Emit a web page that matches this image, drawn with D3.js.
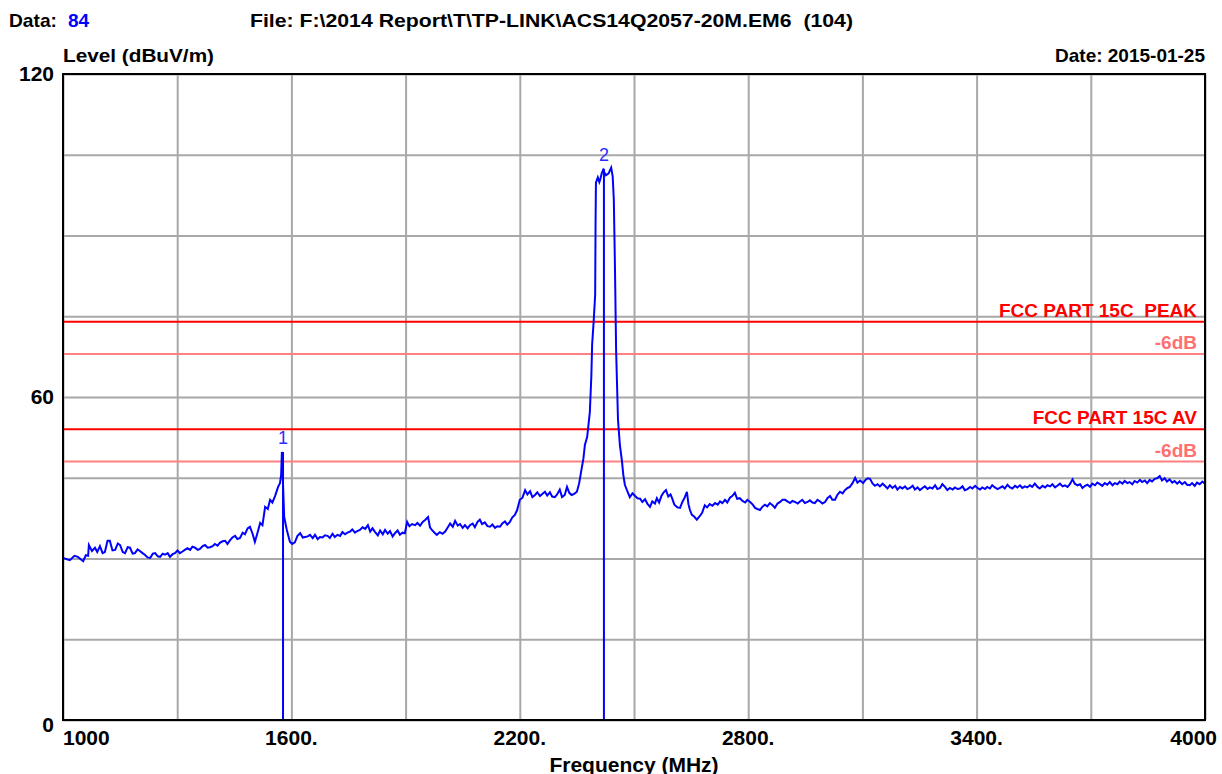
<!DOCTYPE html>
<html>
<head>
<meta charset="utf-8">
<script src="https://cdn.jsdelivr.net/npm/d3@7"></script>
<style>
  body { margin: 0; background: #fff; }
  text { font-family: "Liberation Sans", Arial, sans-serif; font-weight: bold; }
</style>
</head>
<body>
<script>
// spectrum trace (MHz, dBuV/m)
var freq = [1000,1018,1030,1039,1053,1060,1066,1068,1076,1084,1090,1097,1104,1110,1117,1123,1130,1137,1144,1150,1157,1163,1170,1176,1183,1189,1196,1202,1209,1215,1222,1229,1236,1242,1249,1255,1262,1268,1275,1281,1288,1294,1301,1307,1314,1320,1327,1334,1340,1347,1354,1360,1367,1373,1380,1386,1393,1399,1406,1412,1419,1426,1432,1439,1445,1452,1458,1465,1472,1478,1485,1491,1498,1504,1511,1518,1524,1531,1538,1544,1550,1557,1565,1570,1573,1575,1581,1588,1596,1602,1609,1616,1623,1630,1636,1643,1649,1656,1662,1669,1675,1682,1688,1695,1701,1708,1714,1721,1728,1734,1741,1747,1754,1760,1767,1773,1780,1787,1794,1801,1807,1813,1820,1827,1833,1840,1846,1853,1859,1866,1872,1879,1885,1892,1898,1904,1910,1917,1925,1931,1938,1945,1952,1959,1964,1969,1976,1982,1990,1997,2004,2011,2017,2024,2030,2037,2043,2050,2056,2063,2069,2076,2082,2089,2095,2101,2108,2115,2122,2128,2135,2141,2148,2154,2161,2167,2174,2180,2187,2193,2200,2207,2214,2220,2227,2233,2240,2246,2253,2259,2266,2272,2279,2285,2292,2298,2305,2311,2318,2324,2330,2336,2343,2350,2356,2362,2367,2371,2377,2384,2388,2390,2394,2398,2399,2400,2405,2409,2411,2415,2419,2426,2433,2440,2444,2447,2450,2453,2458,2463,2468,2472,2476,2483,2489,2496,2503,2509,2516,2522,2529,2535,2542,2548,2555,2560,2566,2572,2578,2584,2590,2596,2600,2606,2614,2621,2627,2633,2639,2643,2647,2652,2658,2665,2672,2679,2686,2692,2699,2706,2713,2720,2726,2732,2739,2745,2752,2758,2765,2771,2778,2785,2792,2798,2805,2812,2818,2824,2831,2837,2844,2850,2857,2864,2870,2877,2884,2890,2897,2903,2910,2916,2923,2930,2936,2942,2949,2956,2962,2969,2975,2982,2989,2995,3002,3008,3015,3021,3028,3034,3041,3048,3054,3061,3067,3074,3081,3087,3094,3102,3108,3114,3120,3127,3133,3140,3146,3153,3159,3166,3172,3179,3186,3192,3199,3205,3212,3218,3225,3232,3238,3245,3251,3258,3264,3271,3277,3284,3291,3297,3304,3310,3317,3323,3330,3337,3343,3350,3356,3363,3369,3376,3383,3389,3396,3402,3409,3415,3422,3428,3435,3441,3448,3455,3461,3468,3474,3481,3488,3494,3501,3507,3514,3520,3527,3533,3540,3546,3553,3560,3566,3573,3580,3586,3593,3599,3606,3612,3619,3626,3632,3639,3645,3652,3658,3665,3672,3678,3685,3691,3698,3704,3711,3717,3724,3730,3737,3743,3750,3757,3763,3770,3776,3783,3789,3796,3802,3809,3815,3822,3829,3835,3842,3848,3855,3861,3868,3874,3881,3887,3894,3900,3907,3914,3920,3927,3933,3940,3947,3953,3960,3966,3973,3979,3986,3993,4000];
var level = [30.1,29.7,30.5,30.3,29.5,30.6,30.5,32.5,31.4,32.0,31.2,32.3,31.0,31.2,33.3,33.3,31.5,31.6,32.8,32.5,31.2,31.0,32.1,32.0,30.9,31.0,31.7,31.4,31.0,30.7,30.2,30.1,30.9,31.0,30.4,30.3,30.9,30.7,31.0,30.3,30.8,31.0,31.5,31.0,31.3,31.6,31.9,31.6,32.2,32.0,31.6,31.8,32.3,32.5,32.0,32.1,32.3,32.7,32.4,32.9,33.2,33.3,32.7,33.4,33.9,34.2,33.6,33.8,34.8,34.5,35.6,35.9,34.6,33.1,34.8,36.6,36.2,39.6,39.2,40.9,40.4,41.6,43.3,44.0,45.5,49.8,37.7,35.3,33.1,32.7,33.0,34.2,34.7,33.9,34.0,34.1,34.4,33.8,34.4,33.6,34.0,33.9,34.3,34.2,33.8,34.6,34.0,34.4,34.2,34.9,34.5,34.8,35.0,35.4,34.8,35.1,35.3,35.8,35.5,36.2,35.0,35.6,34.9,34.3,35.2,34.5,35.3,34.6,35.1,34.1,34.7,35.2,34.4,34.8,34.7,36.8,36.0,36.4,36.2,36.6,36.1,36.8,37.2,37.7,35.8,35.3,34.8,34.4,34.9,34.6,35.0,35.8,36.5,35.9,37.0,36.1,36.4,35.7,36.2,35.6,36.2,36.5,35.8,36.8,37.2,36.4,36.7,36.0,35.9,36.3,35.7,36.0,35.9,36.5,36.9,36.3,36.8,37.6,38.1,39.0,40.9,41.3,42.7,41.9,42.5,41.4,41.8,42.3,41.6,42.0,42.4,41.7,42.3,41.5,41.4,41.9,42.8,41.4,41.8,43.3,42.2,41.8,42.0,42.4,44.0,46.5,48.5,51.1,52.6,57.2,64.0,69.7,74.0,79.0,92.0,99.8,100.8,99.9,100.3,101.5,102.2,101.2,101.5,102.6,101.0,96.6,84.0,68.7,55.7,51.0,48.3,45.5,43.7,42.4,41.4,42.1,41.6,41.2,41.1,40.5,41.0,40.2,39.6,40.6,40.2,41.2,40.4,41.6,42.3,42.7,41.5,41.9,41.2,40.0,39.5,39.4,40.5,41.3,42.4,40.1,39.0,38.1,37.8,37.2,37.8,38.5,39.9,39.5,40.1,39.8,40.3,40.0,40.6,40.3,40.9,40.4,41.3,41.6,42.2,41.1,41.2,40.7,40.4,40.9,40.5,40.0,39.4,39.2,39.0,39.6,40.0,39.7,40.3,39.9,39.4,40.2,40.5,40.9,40.9,40.6,40.3,40.7,40.5,40.2,40.6,40.9,40.3,40.5,40.8,40.4,40.3,40.9,40.6,40.2,40.5,41.2,41.6,40.9,40.9,41.8,42.4,42.1,42.7,43.1,43.3,44.0,45.0,44.1,44.5,44.0,44.6,44.9,44.8,43.9,43.5,43.8,43.4,43.9,43.5,43.0,43.6,43.1,43.5,42.8,43.3,43.0,43.4,42.9,43.1,43.5,42.8,43.2,42.7,43.1,43.4,42.9,43.2,43.0,43.6,42.9,43.1,43.8,43.3,42.7,43.1,42.8,43.2,42.9,43.0,43.4,42.7,42.9,43.3,43.0,43.5,43.1,42.8,43.2,42.9,43.3,43.0,43.6,43.2,42.9,43.1,43.4,43.0,43.7,43.2,43.0,43.5,43.2,43.6,43.1,43.4,43.2,43.6,43.3,43.9,43.3,43.0,43.5,43.2,43.6,43.4,43.8,43.2,43.5,43.9,43.4,43.6,43.3,43.8,44.7,43.9,43.6,43.8,43.1,43.5,43.7,43.3,43.9,43.6,44.1,43.8,43.5,44.0,43.7,44.2,43.6,44.0,43.8,44.3,43.9,44.4,44.0,44.2,43.8,44.4,44.1,44.6,44.2,44.5,44.0,44.6,44.3,44.8,44.9,45.3,44.5,44.9,44.3,44.7,44.1,44.4,43.9,44.3,43.8,44.2,43.7,43.6,44.0,43.5,44.1,43.8,44.3,43.9];

// markers
var markerId = ['1', '2'];
var markerFreq = [1578, 2421];
var markerLevel = [49.8, 102.4];

// limit lines
var limitNames = ['FCC PART 15C  PEAK', '-6dB', 'FCC PART 15C AV', '-6dB'];
var limitLevels = [74, 68, 54, 48];
var limitColors = ['#ff0000', '#ff8080', '#ff0000', '#ff8080'];

var xTicks = [1000, 1300, 1600, 1900, 2200, 2500, 2800, 3100, 3400, 3700, 4000];
var xLabels = {1000: '1000', 1600: '1600.', 2200: '2200.', 2800: '2800.', 3400: '3400.', 4000: '4000'};
var yTicks = [0, 15, 30, 45, 60, 75, 90, 105, 120];
var yLabels = {0: '0', 60: '60', 120: '120'};

var W = 1222, H = 774;
var plotLeft = 63, plotRight = 1205, plotTop = 74, plotBottom = 720;

var svg = d3.select('body').append('svg')
	.attr('width', W)
	.attr('height', H);

var x = d3.scaleLinear().domain([1000, 4000]).range([plotLeft, plotRight]);
var y = d3.scaleLinear().domain([0, 120]).range([plotBottom, plotTop]);

// grid
svg.append('g')
	.attr('transform', 'translate(0,' + plotBottom + ')')
	.call(d3.axisBottom(x).tickValues(xTicks).tickSize(-(plotBottom - plotTop)).tickFormat(''))
	.call(function(g) { g.select('.domain').remove(); })
	.selectAll('line').attr('stroke', '#a8a8a8').attr('stroke-width', 2);

svg.append('g')
	.attr('transform', 'translate(' + plotLeft + ',0)')
	.call(d3.axisLeft(y).tickValues(yTicks).tickSize(-(plotRight - plotLeft)).tickFormat(''))
	.call(function(g) { g.select('.domain').remove(); })
	.selectAll('line').attr('stroke', '#a8a8a8').attr('stroke-width', 2);

// limit lines
limitLevels.forEach(function(v, i) {
	svg.append('line')
		.attr('x1', plotLeft).attr('x2', plotRight)
		.attr('y1', y(v)).attr('y2', y(v))
		.attr('stroke', limitColors[i])
		.attr('stroke-width', 2);
	svg.append('text')
		.attr('x', plotRight - 8)
		.attr('y', y(v) - 5)
		.attr('text-anchor', 'end')
		.attr('font-size', 19)
		.attr('fill', limitColors[i] == '#ff0000' ? '#ff0000' : '#ff7070')
		.attr('xml:space', 'preserve')
		.style('white-space', 'pre')
		.text(limitNames[i]);
});

// trace
var pts = freq.map(function(f, i) { return [f, level[i]]; });
var line = d3.line()
	.x(function(d) { return x(d[0]); })
	.y(function(d) { return y(d[1]); });

svg.append('path')
	.datum(pts)
	.attr('fill', 'none')
	.attr('stroke', '#0000ff')
	.attr('stroke-width', 2)
	.attr('d', line);

// marker lines
markerFreq.forEach(function(f, i) {
	svg.append('line')
		.attr('x1', x(f)).attr('x2', x(f))
		.attr('y1', y(markerLevel[i])).attr('y2', y(0))
		.attr('stroke', '#0000ff')
		.attr('stroke-width', 2);
	svg.append('text')
		.attr('x', x(f))
		.attr('y', y(markerLevel[i]) - 8)
		.attr('text-anchor', 'middle')
		.attr('font-size', 18)
		.style('font-weight', 'normal')
		.attr('fill', '#2a2aff')
		.text(markerId[i]);
});

// frame
svg.append('rect')
	.attr('x', plotLeft).attr('y', plotTop)
	.attr('width', plotRight - plotLeft).attr('height', plotBottom - plotTop)
	.attr('fill', 'none')
	.attr('stroke', '#000')
	.attr('stroke-width', 2);

// axis labels
svg.selectAll('.xl')
	.data(xTicks.filter(function(t) { return xLabels[t]; }))
	.enter().append('text')
	.attr('x', function(d) { return d == 1000 ? plotLeft : d == 4000 ? plotRight + 12 : x(d); })
	.attr('y', 745)
	.attr('text-anchor', function(d) { return d == 1000 ? 'start' : d == 4000 ? 'end' : 'middle'; })
	.attr('font-size', 21)
	.text(function(d) { return xLabels[d]; });

svg.selectAll('.yl')
	.data(yTicks.filter(function(t) { return yLabels[t]; }))
	.enter().append('text')
	.attr('x', 54)
	.attr('y', function(d) { return y(d) + (d == 0 ? 12 : 7); })
	.attr('text-anchor', 'end')
	.attr('font-size', 21)
	.text(function(d) { return yLabels[d]; });

svg.append('text')
	.attr('x', (plotLeft + plotRight) / 2)
	.attr('y', 772)
	.attr('text-anchor', 'middle')
	.attr('font-size', 21)
	.text('Frequency (MHz)');

svg.append('text')
	.attr('x', plotLeft)
	.attr('y', 62)
	.attr('font-size', 19)
	.attr('textLength', 151)
	.attr('lengthAdjust', 'spacingAndGlyphs')
	.text('Level (dBuV/m)');

svg.append('text')
	.attr('x', plotRight)
	.attr('y', 62)
	.attr('text-anchor', 'end')
	.attr('font-size', 19)
	.text('Date: 2015-01-25');

// header
svg.append('text')
	.attr('x', 9)
	.attr('y', 27)
	.attr('font-size', 19)
	.attr('textLength', 48)
	.attr('lengthAdjust', 'spacingAndGlyphs')
	.text('Data:');
svg.append('text')
	.attr('x', 68)
	.attr('y', 27)
	.attr('font-size', 19)
	.attr('fill', '#0000ff')
	.text('84');
svg.append('text')
	.attr('x', 250)
	.attr('y', 27)
	.attr('font-size', 19)
	.attr('xml:space', 'preserve')
	.attr('textLength', 603)
	.attr('lengthAdjust', 'spacingAndGlyphs')
	.style('white-space', 'pre')
	.text('File: F:\\2014 Report\\T\\TP-LINK\\ACS14Q2057-20M.EM6  (104)');
</script>
</body>
</html>
